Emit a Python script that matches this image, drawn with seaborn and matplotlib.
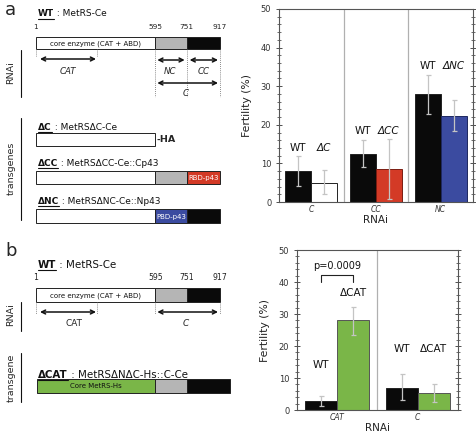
import matplotlib
matplotlib.use("Agg")
import matplotlib.pyplot as plt
import seaborn as sns
import pandas as pd
from matplotlib.patches import Rectangle
from matplotlib.ticker import MultipleLocator

# ---------------- data ----------------
rnai_a = ["C", "CC", "NC"]
wt_a = [8.0, 12.5, 28.0]
mut_a = [5.0, 8.5, 22.3]
mut_names_a = ["ΔC", "ΔCC", "ΔNC"]
wt_lo_a = [4.2, 9.0, 22.8]
wt_hi_a = [11.8, 16.0, 33.0]
mut_lo_a = [2.0, 0.8, 18.3]
mut_hi_a = [8.3, 16.2, 26.5]

rnai_b = ["CAT", "C"]
wt_b = [2.7, 7.0]
mut_b = [28.0, 5.2]
mut_names_b = ["ΔCAT", "ΔCAT"]
wt_lo_b = [1.2, 3.0]
wt_hi_b = [4.3, 11.2]
mut_lo_b = [23.5, 2.5]
mut_hi_b = [32.3, 8.2]
p_value_text = "p=0.0009"

residues = [1, 595, 751, 917]

# ---------------- setup ----------------
sns.set_theme(style="white")
plt.rcParams['font.family'] = ['DejaVu Sans']

W, H = 477, 434
fig = plt.figure(figsize=(W / 100, H / 100), dpi=100)
dax = fig.add_axes([0, 0, 1, 1])
dax.set_xlim(0, W)
dax.set_ylim(H, 0)
dax.axis('off')

X0, X1 = 36, 220


def rx(r):
    return X0 + (r - residues[0]) / (residues[-1] - residues[0]) * (X1 - X0)


def title_text(x, y, key, rest, fs=6.5):
    t = dax.text(x, y, key, fontsize=fs, fontweight='bold', va='center', ha='left', color='#111')
    fig.canvas.draw()
    bb = t.get_window_extent(fig.canvas.get_renderer())
    x_end = bb.x1 * 100 / fig.dpi
    dax.plot([x, x_end], [y + 5, y + 5], color='#111', lw=0.8)
    dax.text(x_end, y, " : " + rest, fontsize=fs, va='center', ha='left', color='#111')


def box(y0, h, segs):
    for xa, xb, fc, txt, tc, ec in segs:
        dax.add_patch(Rectangle((xa, y0), xb - xa, h, facecolor=fc, edgecolor=ec, lw=0.7))
        if txt:
            dax.text((xa + xb) / 2, y0 + h / 2 + 0.5, txt, fontsize=5.0, color=tc, ha='center', va='center')


def arrow(xa, xb, y):
    dax.annotate("", xy=(xa, y), xytext=(xb, y),
                 arrowprops=dict(arrowstyle='<->', lw=1.1, color='#111', shrinkA=0, shrinkB=0,
                                 mutation_scale=7))


def vdot(x, ya, yb):
    dax.plot([x, x], [ya, yb], color='#666', lw=0.6, ls=(0, (1, 1.5)))


# panel letters
dax.text(5, 10, "a", fontsize=13, va='center', ha='left')
dax.text(5, 251, "b", fontsize=13, va='center', ha='left')

# ---- panel a diagram ----
title_text(38, 14, "WT", "MetRS-Ce")
for r in residues:
    dax.text(rx(r), 27, str(r), fontsize=5.3, ha='center', va='center', color='#222')
box(37, 12, [(rx(1), rx(595), 'white', "core enzyme (CAT + ABD)", '#111', '#222'),
             (rx(595), rx(751), '#b5b5b5', None, None, '#222'),
             (rx(751), rx(917), '#0a0a0a', None, None, '#222')])
vdot(rx(1), 49, 56)
vdot(97, 49, 56)
for r in residues[1:]:
    vdot(rx(r), 49, 97)
arrow(40, 96, 59)
dax.text(68, 72, "CAT", fontsize=6.2, style='italic', ha='center', va='center')
arrow(rx(595) + 2, rx(751) - 2, 60)
dax.text(170, 72, "NC", fontsize=6.2, style='italic', ha='center', va='center')
arrow(rx(751) + 3, rx(917) - 2, 60)
dax.text(204, 72, "CC", fontsize=6.2, style='italic', ha='center', va='center')
arrow(rx(595) + 2, rx(917) - 2, 83)
dax.text(186, 94, "C", fontsize=6.2, style='italic', ha='center', va='center')

dax.plot([21, 21], [50, 97], color='#111', lw=0.8)
dax.text(11, 73, "RNAi", fontsize=6.8, rotation=90, ha='center', va='center')
dax.plot([21, 21], [118, 220], color='#111', lw=0.8)
dax.text(11, 168, "transgenes", fontsize=6.8, rotation=90, ha='center', va='center')

title_text(38, 127, "ΔC", "MetRSΔC-Ce")
box(133, 13, [(rx(1), rx(595), 'white', None, None, '#222')])
dax.text(rx(595) + 1, 140, "-HA", fontsize=6.8, fontweight='bold', ha='left', va='center')

title_text(38, 163, "ΔCC", "MetRSΔCC-Ce::Cp43")
box(171, 13, [(rx(1), rx(595), 'white', None, None, '#222'),
              (rx(595), rx(751), '#b5b5b5', None, None, '#222'),
              (rx(751), rx(917), '#d33a26', "RBD-p43", 'white', '#222')])

title_text(38, 201, "ΔNC", "MetRSΔNC-Ce::Np43")
box(209, 14, [(rx(1), rx(595), 'white', None, None, '#222'),
              (rx(595), rx(751), '#3b4ba0', "PBD-p43", 'white', '#222'),
              (rx(751), rx(917), '#0a0a0a', None, None, '#222')])

# ---- panel b diagram ----
title_text(38, 265, "WT", "MetRS-Ce", fs=7.4)
for r in residues:
    dax.text(rx(r), 278, str(r), fontsize=5.6, ha='center', va='center', color='#222')
box(288, 14, [(rx(1), rx(595), 'white', "core enzyme (CAT + ABD)", '#111', '#222'),
              (rx(595), rx(751), '#b5b5b5', None, None, '#222'),
              (rx(751), rx(917), '#0a0a0a', None, None, '#222')])
vdot(rx(1), 302, 314)
vdot(97, 302, 314)
vdot(rx(595), 302, 314)
vdot(rx(917), 302, 314)
arrow(40, 96, 312)
dax.text(74, 323, "CAT", fontsize=6.4, ha='center', va='center')
arrow(rx(595) + 2, rx(917) - 2, 312)
dax.text(186, 323, "C", fontsize=6.4, style='italic', ha='center', va='center')
dax.plot([21, 21], [302, 331], color='#111', lw=0.8)
dax.text(11, 315, "RNAi", fontsize=6.8, rotation=90, ha='center', va='center')
dax.plot([21, 21], [353, 402], color='#111', lw=0.8)
dax.text(11, 378, "transgene", fontsize=6.8, rotation=90, ha='center', va='center')

title_text(38, 375, "ΔCAT", "MetRSΔNΔC-Hs::C-Ce", fs=7.4)
box(379, 14, [(37, 155, '#7ab648', "Core MetRS-Hs", '#111', '#222'),
              (155, 187, '#b5b5b5', None, None, '#222'),
              (187, 230, '#0a0a0a', None, None, '#222')])


# ---------------- bar charts ----------------
def bar_panel(rect, rnai, wt, mut, mut_names, mut_colors, mut_edges,
              wt_lo, wt_hi, mut_lo, mut_hi, label_y):
    ax = fig.add_axes(rect)
    n = len(rnai)
    df = pd.DataFrame({"RNAi": rnai * 2,
                       "strain": ["WT"] * n + ["mut"] * n,
                       "Fertility": wt + mut})
    sns.barplot(data=df, x="RNAi", y="Fertility", hue="strain", order=rnai,
                hue_order=["WT", "mut"], palette={"WT": "#0a0a0a", "mut": "white"},
                width=0.8, errorbar=None, legend=False, ax=ax,
                edgecolor="#222", linewidth=0.7)
    for p, c, e in zip(ax.containers[1], mut_colors, mut_edges):
        p.set_facecolor(c)
        p.set_edgecolor(e)
    for cont, lo, hi in [(ax.containers[0], wt_lo, wt_hi), (ax.containers[1], mut_lo, mut_hi)]:
        xs = [p.get_x() + p.get_width() / 2 for p in cont]
        hs = [p.get_height() for p in cont]
        ax.errorbar(xs, hs, yerr=[[h - l for h, l in zip(hs, lo)], [u - h for h, u in zip(hs, hi)]],
                    fmt='none', ecolor='#c4c4c4', elinewidth=0.9, capsize=1.8, capthick=0.9, zorder=5)
    for i in range(n):
        pw = ax.containers[0][i]
        pm = ax.containers[1][i]
        ax.text(pw.get_x() + pw.get_width() / 2, label_y[i][0], "WT", fontsize=7.5,
                ha='center', va='bottom', color='#111')
        ax.text(pm.get_x() + pm.get_width() / 2, label_y[i][1], mut_names[i], fontsize=7.5,
                style='italic', ha='center', va='bottom', color='#111')
    for k in range(n - 1):
        ax.axvline(k + 0.5, color='#b0b0b0', lw=0.9, zorder=0)
    ax.set_xlim(-0.5, n - 0.5)
    ax.set_ylim(0, 50)
    ax.yaxis.set_major_locator(MultipleLocator(10))
    ax.yaxis.set_minor_locator(MultipleLocator(2))
    ax.tick_params(axis='y', which='both', left=True, right=True, direction='inout',
                   labelsize=6, colors='#333')
    ax.tick_params(axis='y', which='major', length=4, width=0.6)
    ax.tick_params(axis='y', which='minor', length=2.5, width=0.5)
    ax.tick_params(axis='x', length=0, labelsize=5.5, pad=2, colors='#333')
    for lab in ax.get_xticklabels():
        lab.set_style('italic')
    for s in ax.spines.values():
        s.set_color('#555')
        s.set_linewidth(0.8)
    ax.set_xlabel("RNAi", fontsize=7.5, labelpad=1, color='#222')
    ax.set_ylabel("Fertility (%)", fontsize=7.8, labelpad=6, color='#222')
    return ax


la = [[max(wt_hi_a[i], mut_hi_a[i]) + 1.0] * 2 for i in range(len(rnai_a))]
ax_a = bar_panel([279 / W, 1 - 202 / H, (473 - 279) / W, (202 - 9) / H],
                 rnai_a, wt_a, mut_a, mut_names_a,
                 ['white', '#d33a26', '#3b4ba0'], ['#222', '#7a1d12', '#1e2860'],
                 wt_lo_a, wt_hi_a, mut_lo_a, mut_hi_a, la)

lb = [[12.5, 35.0], [17.5, 17.5]]
ax_b = bar_panel([297 / W, 1 - 410 / H, (458 - 297) / W, (410 - 250) / H],
                 rnai_b, wt_b, mut_b, mut_names_b,
                 ['#7ab648', '#7ab648'], ['#555', '#555'],
                 wt_lo_b, wt_hi_b, mut_lo_b, mut_hi_b, lb)
for lab in ax_b.texts:
    lab.set_style('normal')

# significance bracket
pw = ax_b.containers[0][0]
pm = ax_b.containers[1][0]
xa = pw.get_x() + pw.get_width() / 2
xb = pm.get_x() + pm.get_width() / 2
ax_b.plot([xa, xa, xb, xb], [40.0, 42.3, 42.3, 40.0], color='#222', lw=0.8)
ax_b.text((xa + xb) / 2, 43.3, p_value_text, fontsize=7, ha='center', va='bottom', color='#111')

fig.savefig("out.png", dpi=100)
